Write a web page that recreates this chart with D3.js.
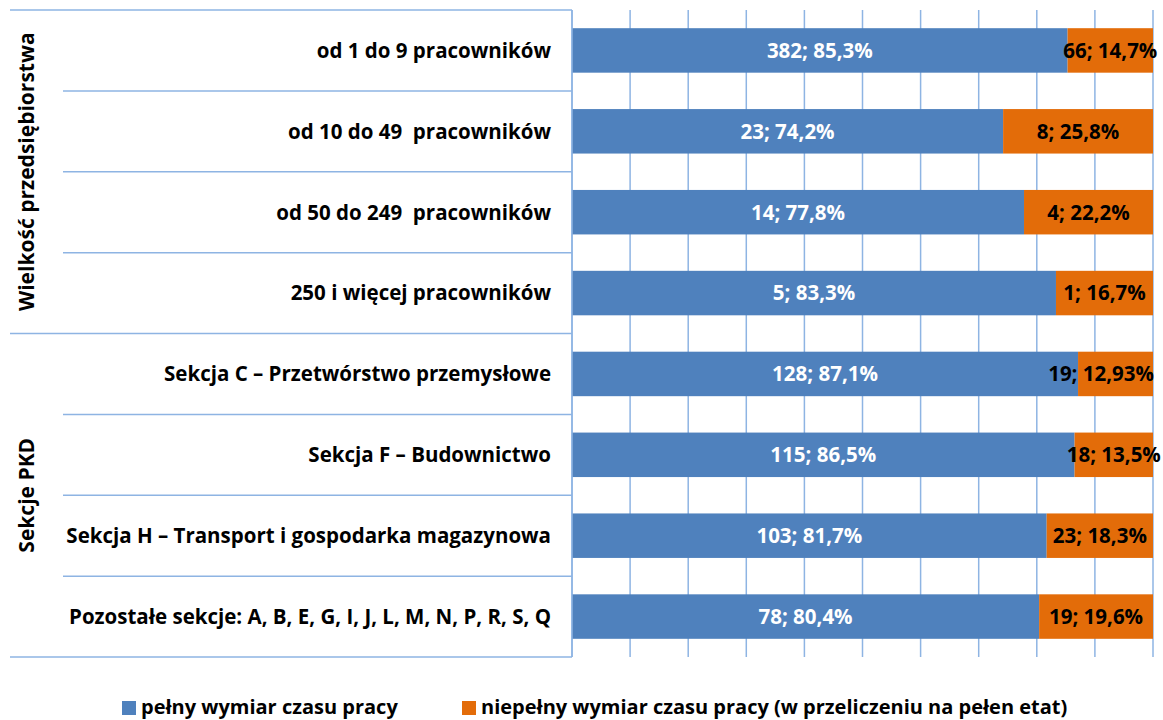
<!DOCTYPE html>
<html><head><meta charset="utf-8">
<script src="https://cdn.jsdelivr.net/npm/d3@7"></script>
<style>
body{margin:0;background:#fff;}
svg{display:block;font-family:"Open Sans", sans-serif;}
</style></head>
<body><svg id="c" width="1163" height="720"></svg>
<script>
const categories = [
  "od 1 do 9 pracowników",
  "od 10 do 49  pracowników",
  "od 50 do 249  pracowników",
  "250 i więcej pracowników",
  "Sekcja C – Przetwórstwo przemysłowe",
  "Sekcja F – Budownictwo",
  "Sekcja H – Transport i gospodarka magazynowa",
  "Pozostałe sekcje: A, B, E, G, I, J, L, M, N, P, R, S, Q"
];
const groups = ["Wielkość przedsiębiorstwa", "Sekcje PKD"];
const groupSizes = [4, 4];
const fullCount = [382, 23, 14, 5, 128, 115, 103, 78];
const fullPct = [85.3, 74.2, 77.8, 83.3, 87.1, 86.5, 81.7, 80.4];
const partCount = [66, 8, 4, 1, 19, 18, 23, 19];
const partPct = [14.7, 25.8, 22.2, 16.7, 12.93, 13.5, 18.3, 19.6];
const seriesNames = ["pełny wymiar czasu pracy", "niepełny wymiar czasu pracy (w przeliczeniu na pełen etat)"];
const xTicks = [0,10,20,30,40,50,60,70,80,90,100];

(function(){
const W = 1163;
const svg = d3.select("#c");
const pLeft = 572, pRight = 1153, pTop = 10, pBottom = 657;
const gridColor = "#8EB4E3";
const colors = ["#4F81BD", "#E36C09"];

const x = d3.scaleLinear().domain([0,100]).range([pLeft,pRight]);
const y = d3.scaleBand().domain(categories).range([pTop,pBottom]).paddingInner(0.45).paddingOuter(0.225);
const yb = d3.scaleBand().domain(categories).range([pTop,pBottom]);

// gridlines
svg.append("g").selectAll("line").data(xTicks).join("line")
  .attr("x1", d=>x(d)).attr("x2", d=>x(d)).attr("y1", pTop).attr("y2", pBottom)
  .attr("stroke", gridColor).attr("stroke-width", 1.5);

// category separator lines (left axis ticks)
const seps = d3.range(categories.length+1);
const groupStarts = [0];
groupSizes.forEach((s,i)=>groupStarts.push(groupStarts[i]+s));
svg.append("g").selectAll("line").data(seps).join("line")
  .attr("x1", i => groupStarts.includes(i) ? 10 : 63)
  .attr("x2", pLeft)
  .attr("y1", i => i < categories.length ? yb(categories[i]) : pBottom)
  .attr("y2", i => i < categories.length ? yb(categories[i]) : pBottom)
  .attr("stroke", gridColor).attr("stroke-width", 1.5);

// bars
const rows = categories.map((c,i)=>({c, fc:fullCount[i], fp:fullPct[i], pc:partCount[i], pp:partPct[i]}));
const fmt = v => String(v).replace(".", ",") + "%";
const bg = svg.append("g");
bg.selectAll("rect.f").data(rows).join("rect").attr("class","f")
  .attr("x", x(0)).attr("y", d=>y(d.c)).attr("height", y.bandwidth())
  .attr("width", d=>x(d.fp)-x(0)).attr("fill", colors[0]);
bg.selectAll("rect.p").data(rows).join("rect").attr("class","p")
  .attr("x", d=>x(d.fp)).attr("y", d=>y(d.c)).attr("height", y.bandwidth())
  .attr("width", d=>x(100)-x(d.fp)).attr("fill", colors[1]);

// y axis line
svg.append("line").attr("x1", pLeft).attr("x2", pLeft).attr("y1", pTop).attr("y2", pBottom)
  .attr("stroke", gridColor).attr("stroke-width", 1.5);

// labels
bg.selectAll("text.f").data(rows).join("text").attr("class","f")
  .attr("x", d=>(x(0)+x(d.fp))/2).attr("y", d=>y(d.c)+y.bandwidth()/2)
  .attr("dy","0.36em").attr("text-anchor","middle").attr("fill","#fff")
  .attr("font-weight","bold").attr("font-size",20.5)
  .text(d=>d.fc + "; " + fmt(d.fp));
bg.selectAll("text.p").data(rows).join("text").attr("class","p")
  .attr("x", d=>(x(d.fp)+x(100))/2).attr("y", d=>y(d.c)+y.bandwidth()/2)
  .attr("dy","0.36em").attr("text-anchor","middle").attr("fill","#000")
  .attr("font-weight","bold").attr("font-size",20.5)
  .text(d=>d.pc + "; " + fmt(d.pp))
  .each(function(d){
    const w = this.getComputedTextLength();
    const cx = (x(d.fp)+x(100))/2;
    if (cx + w/2 > W - 1) {
      d3.select(this).attr("text-anchor","end").attr("x", pRight + 1);
    }
  });

// category labels
svg.append("g").selectAll("text").data(categories).join("text")
  .attr("x", 551).attr("y", d=>yb(d)+yb.bandwidth()/2).attr("dy","0.36em")
  .attr("text-anchor","end").attr("font-weight","bold").attr("font-size",20.5)
  .attr("fill","#000").style("white-space","pre").text(d=>d);

// group labels
svg.append("g").selectAll("text").data(groups).join("text")
  .attr("transform", (g,i)=>{
    const a = yb(categories[groupStarts[i]]);
    const b = groupStarts[i+1] < categories.length ? yb(categories[groupStarts[i+1]]) : pBottom;
    return `translate(34,${(a+b)/2}) rotate(-90)`;
  })
  .attr("text-anchor","middle").attr("font-weight","bold").attr("font-size",21).attr("fill","#000")
  .text(d=>d);

// legend
const legX = [122, 462];
const lg = svg.append("g").selectAll("g").data(seriesNames).join("g")
  .attr("transform",(d,i)=>`translate(${legX[i]},701)`);
lg.append("rect").attr("width",14).attr("height",14).attr("fill",(d,i)=>colors[i]);
lg.append("text").attr("x",19).attr("y",13).attr("font-weight","bold").attr("font-size",20).attr("fill","#000").text(d=>d);
})();
</script></body></html>
